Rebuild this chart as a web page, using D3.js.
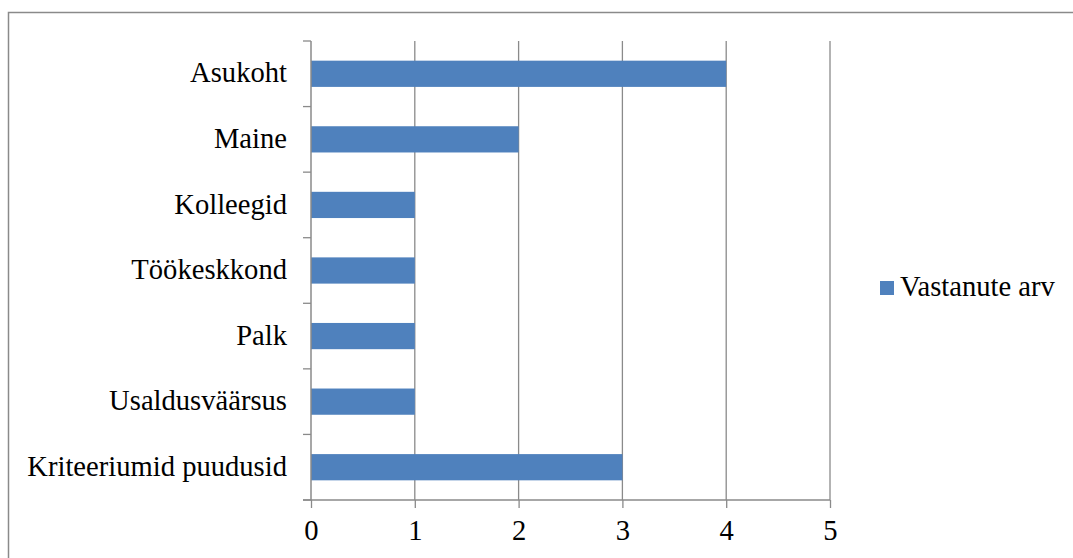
<!DOCTYPE html>
<html>
<head>
<meta charset="utf-8">
<script src="https://cdn.jsdelivr.net/npm/d3@7"></script>
<style>
  html, body { margin: 0; padding: 0; background: #fff; }
  svg { display: block; }
  text { font-family: "Liberation Serif", "Times New Roman", serif; fill: #000; }
</style>
</head>
<body>
<svg id="chart" width="1073" height="558"></svg>
<script>
// Categories from top to bottom and the number of respondents for each
const categories = ["Asukoht", "Maine", "Kolleegid", "Töökeskkond", "Palk", "Usaldusväärsus", "Kriteeriumid puudusid"];
const values = [4, 2, 1, 1, 1, 1, 3];
const xTicks = [0, 1, 2, 3, 4, 5];
const seriesName = "Vastanute arv";

const svg = d3.select("#chart");
const W = 1073, H = 558;
const plot = { left: 311, right: 830, top: 41, bottom: 500 };
const grey = "#8a8a8a";
const barColor = "#4f81bd";
const fontSize = 28.6;

// Outer chart frame (runs past the right and bottom edges)
svg.append("rect")
  .attr("x", 8.5).attr("y", 12.5)
  .attr("width", W + 20).attr("height", H + 20)
  .attr("fill", "none").attr("stroke", grey).attr("stroke-width", 1.5);

const x = d3.scaleLinear().domain([0, 5]).range([plot.left, plot.right]);
const y = d3.scaleBand().domain(categories).range([plot.top, plot.bottom]).paddingInner(0.6).paddingOuter(0.3);
const yb = d3.scaleBand().domain(categories).range([plot.top, plot.bottom]);

// Vertical gridlines
svg.append("g").selectAll("line")
  .data(xTicks.filter(t => t > 0))
  .join("line")
  .attr("x1", d => x(d)).attr("x2", d => x(d))
  .attr("y1", plot.top).attr("y2", plot.bottom)
  .attr("stroke", grey).attr("stroke-width", 1.3);

// Bars
svg.append("g").selectAll("rect")
  .data(categories.map((c, i) => ({ c, v: values[i] })))
  .join("rect")
  .attr("x", x(0))
  .attr("y", d => y(d.c))
  .attr("width", d => x(d.v) - x(0))
  .attr("height", y.bandwidth())
  .attr("fill", barColor);

// Bottom axis
const xAxis = svg.append("g")
  .attr("transform", `translate(0,${plot.bottom})`)
  .call(d3.axisBottom(x).tickValues(xTicks).tickSize(8).tickPadding(12).tickFormat(d3.format("d")));
xAxis.select(".domain").remove();
xAxis.append("line")
  .attr("x1", plot.left - 8).attr("x2", plot.right)
  .attr("stroke", grey).attr("stroke-width", 1.5);
xAxis.selectAll(".tick line").attr("stroke", grey).attr("stroke-width", 1.3);
xAxis.selectAll(".tick text")
  .attr("font-size", fontSize).attr("fill", "#000")
  .attr("font-family", "Liberation Serif, serif")
  .attr("dy", "0.71em");

// Left axis: band boundary ticks and category labels
const bounds = categories.map(c => yb(c)).concat([plot.bottom]);
const yAxis = svg.append("g");
yAxis.append("line")
  .attr("x1", plot.left).attr("x2", plot.left)
  .attr("y1", plot.top).attr("y2", plot.bottom)
  .attr("stroke", grey).attr("stroke-width", 1.5);
yAxis.selectAll("line.tk")
  .data(bounds)
  .join("line").attr("class", "tk")
  .attr("x1", plot.left - 8).attr("x2", plot.left)
  .attr("y1", d => d).attr("y2", d => d)
  .attr("stroke", grey).attr("stroke-width", 1.3);
yAxis.selectAll("text")
  .data(categories)
  .join("text")
  .attr("x", plot.left - 24)
  .attr("y", d => yb(d) + yb.bandwidth() / 2)
  .attr("dy", "0.3em")
  .attr("text-anchor", "end")
  .attr("font-size", fontSize)
  .text(d => d);

// Legend
const legend = svg.append("g").attr("transform", "translate(880,281)");
legend.append("rect").attr("width", 14).attr("height", 14).attr("fill", barColor);
legend.append("text")
  .attr("x", 20).attr("y", 14.5)
  .attr("font-size", fontSize)
  .text(seriesName);
</script>
</body>
</html>
